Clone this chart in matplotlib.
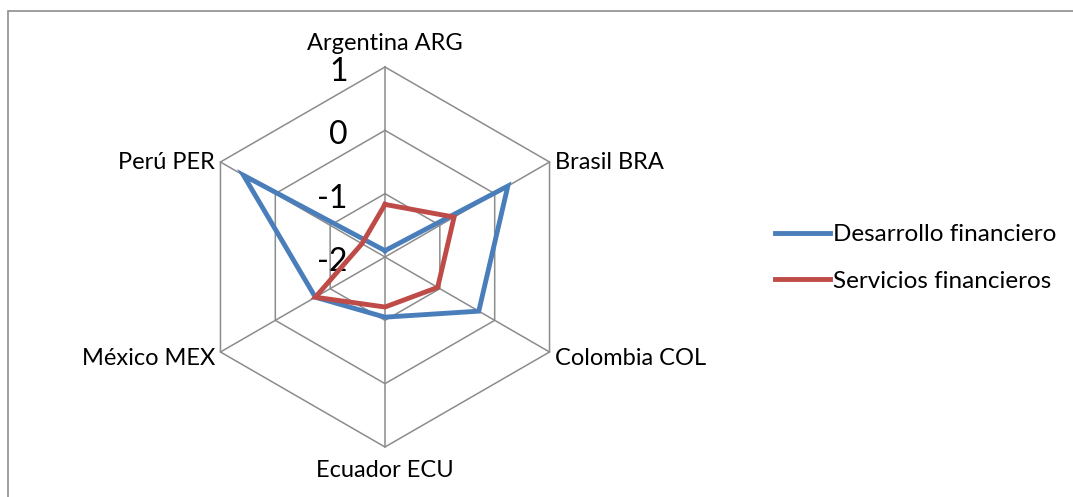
"""Radar chart: desarrollo vs servicios financieros by country."""

import matplotlib

matplotlib.use("Agg")

import matplotlib.pyplot as plt
import numpy as np
from matplotlib.patches import Rectangle

plt.rcParams["font.family"] = ["Lato", "DejaVu Sans"]

CATEGORIES = ["Argentina ARG", "Brasil BRA", "Colombia COL",
              "Ecuador ECU", "México MEX", "Perú PER"]
DESARROLLO = [-1.90, 0.24, -0.29, -1.05, -0.73, 0.58]
SERVICIOS = [-1.17, -0.74, -1.04, -1.21, -0.73, -1.58]
RINGS = [-2, -1, 0, 1]
SERIES = ["Desarrollo financiero", "Servicios financieros"]

R_MIN = -2
PX_PER_UNIT = 63.33
CX, CY = 385, 257
W, H = 1073, 497

BLUE = "#4A7EBB"
RED = "#BE4B48"
GRID = "#8C8C8C"

angles = np.deg2rad(90 - 60 * np.arange(len(CATEGORIES)))


def to_xy(values):
    r = np.asarray(values, dtype=float) - R_MIN
    x = r * np.cos(angles)
    y = r * np.sin(angles)
    return np.append(x, x[0]), np.append(y, y[0])


fig = plt.figure(figsize=(W / 100, H / 100), dpi=100)
ax = fig.add_axes([0, 0, 1, 1])
ax.set_xlim(-CX / PX_PER_UNIT, (W - CX) / PX_PER_UNIT)
ax.set_ylim(-(H - CY) / PX_PER_UNIT, CY / PX_PER_UNIT)
ax.axis("off")

# hexagonal grid rings and spokes
r_max = RINGS[-1] - R_MIN
for ring in RINGS[1:]:
    gx, gy = to_xy([ring] * len(CATEGORIES))
    ax.plot(gx, gy, color=GRID, lw=1.1, zorder=1)
for a in angles:
    ax.plot([0, r_max * np.cos(a)], [0, r_max * np.sin(a)], color=GRID, lw=1.1, zorder=1)

# ring value labels along the top spoke
for ring in RINGS:
    ax.text(-0.59, ring - R_MIN - 0.08, str(ring), ha="right", va="center",
            fontsize=23, color="black")

# category labels
pad = 0.1
for name, a in zip(CATEGORIES, angles):
    c, s = np.cos(a), np.sin(a)
    x, y = (r_max + pad) * c, (r_max + pad) * s
    if abs(c) < 0.01:
        ha = "center"
        va = "bottom" if s > 0 else "top"
        y += 0.1 * np.sign(s)
    else:
        ha = "left" if c > 0 else "right"
        va = "center"
        y -= 0.05
    ax.text(x, y, name, ha=ha, va=va, fontsize=17)

dx, dy = to_xy(DESARROLLO)
sx, sy = to_xy(SERVICIOS)
l1, = ax.plot(dx, dy, color=BLUE, lw=3.5, solid_joinstyle="miter", zorder=3)
l2, = ax.plot(sx, sy, color=RED, lw=3.5, solid_joinstyle="miter", zorder=4)

fig.legend([l1, l2], SERIES, loc="upper left",
           bbox_to_anchor=(763 / W, 1 - 212 / H), frameon=False,
           fontsize=17.5, handlelength=2.25, handletextpad=0.12,
           labelspacing=1.05, borderpad=0)

# chart area border (extends past right and bottom edges)
fig.add_artist(Rectangle((8 / W, -0.2), 1.2, 1 - 11.5 / H + 0.2,
                         transform=fig.transFigure, fill=False,
                         edgecolor="#8E8E8E", lw=1.2))

fig.savefig("out.png", dpi=100)
